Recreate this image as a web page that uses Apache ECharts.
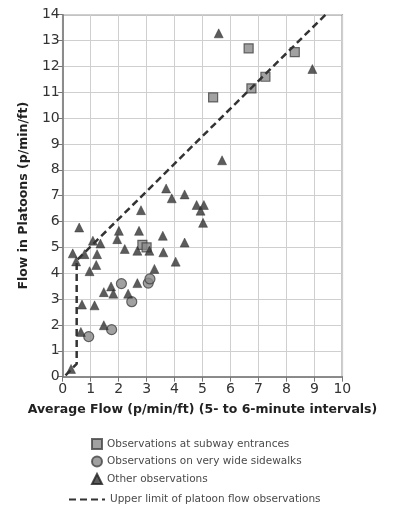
<!DOCTYPE html>
<html><head><meta charset="utf-8">
<script src="https://cdn.jsdelivr.net/npm/echarts@6/dist/echarts.min.js"></script>
<style>html,body{margin:0;padding:0;background:#fff}#c{width:407px;height:508px}</style>
</head><body><div id="c"></div>
<script>
const xTicks = [0,1,2,3,4,5,6,7,8,9,10];
const yTicks = [0,1,2,3,4,5,6,7,8,9,10,11,12,13,14];
const subway = [[2.85,5.1],[3.0,5.0],[5.38,10.8],[6.65,12.7],[6.75,11.15],[7.25,11.6],[8.3,12.55]];
const sidewalks = [[0.93,1.55],[1.75,1.82],[2.1,3.6],[2.47,2.9],[3.06,3.62],[3.12,3.78]];
const other = [[0.3,0.3],[0.36,4.77],[0.59,5.77],[0.48,4.46],[0.78,4.74],[0.69,2.79],[0.65,1.73],[0.96,4.08],
  [1.08,5.26],[1.2,4.32],[1.23,4.74],[1.35,5.15],[1.14,2.76],[1.47,3.27],[1.73,3.49],[1.81,3.21],[1.47,1.99],
  [2.01,5.64],[1.95,5.32],[2.22,4.94],[2.34,3.21],[2.67,3.62],[2.8,6.44],[2.73,5.64],[2.67,4.87],[3.1,4.87],
  [3.28,4.17],[3.7,7.28],[3.9,6.9],[3.58,5.45],[3.6,4.81],[4.04,4.45],[4.36,7.05],[4.36,5.19],[4.79,6.64],
  [5.05,6.64],[4.93,6.42],[5.02,5.95],[5.58,13.28],[5.7,8.37],[8.93,11.9]];
const upperLimit = [[0.1,0.05],[0.5,0.5],[0.5,4.5],[9.4,14]];
const names = ['Observations at subway entrances','Observations on very wide sidewalks','Other observations','Upper limit of platoon flow observations'];

const chart = echarts.init(document.getElementById('c'), null, {renderer:'canvas'});
const font = 'DejaVu Sans';
const axisCommon = {
  axisLine:{show:true,lineStyle:{color:'#777',width:1.5}},
  axisTick:{show:true,length:5,lineStyle:{color:'#777'}},
  splitLine:{show:true,lineStyle:{color:'#cfcfcf',width:1}},
  axisLabel:{color:'#333',fontFamily:font,fontSize:14},
  nameTextStyle:{color:'#222',fontFamily:font,fontSize:12.5,fontWeight:'bold'}
};
const legendText = {color:'#4a4a4a',fontFamily:font,fontSize:10.5};
chart.setOption({
  animation:false,
  grid:{left:62.7,right:64.7,top:14.7,bottom:131.3,show:true,borderColor:'#888',borderWidth:1.5},
  xAxis:Object.assign({type:'value',min:0,max:10,interval:1,name:'Average Flow (p/min/ft) (5- to 6-minute intervals)',
    nameLocation:'middle',nameGap:27},axisCommon,{axisLabel:Object.assign({},axisCommon.axisLabel,{margin:6})}),
  yAxis:Object.assign({type:'value',min:0,max:14,interval:1,name:'Flow in Platoons (p/min/ft)',
    nameLocation:'middle',nameGap:32},axisCommon,{axisLabel:Object.assign({},axisCommon.axisLabel,{margin:3})}),
  legend:[
    {orient:'vertical',left:86,top:433,height:80,itemWidth:10,itemHeight:10,itemGap:5.5,
      textStyle:legendText,data:names.slice(0,3)},
    {orient:'vertical',left:63,top:489,itemWidth:36,itemHeight:10,itemGap:5.5,
      textStyle:legendText,data:[{name:names[3],itemStyle:{opacity:0}}]}
  ],
  series:[
    {name:names[0],type:'scatter',symbol:'rect',symbolSize:9,data:subway,
      itemStyle:{color:'#8a8a8a',borderColor:'#444',borderWidth:1.2}},
    {name:names[1],type:'scatter',symbol:'circle',symbolSize:10,data:sidewalks,
      itemStyle:{color:'#8a8a8a',borderColor:'#444',borderWidth:1.2}},
    {name:names[2],type:'scatter',symbol:'triangle',symbolSize:9,data:other,
      itemStyle:{color:'#333',borderColor:'#222',borderWidth:0.5}},
    {name:names[3],type:'line',data:upperLimit,symbol:'none',itemStyle:{color:'#333'},
      lineStyle:{color:'#333',width:2.5,type:[7,4]}}
  ]
});
</script></body></html>
